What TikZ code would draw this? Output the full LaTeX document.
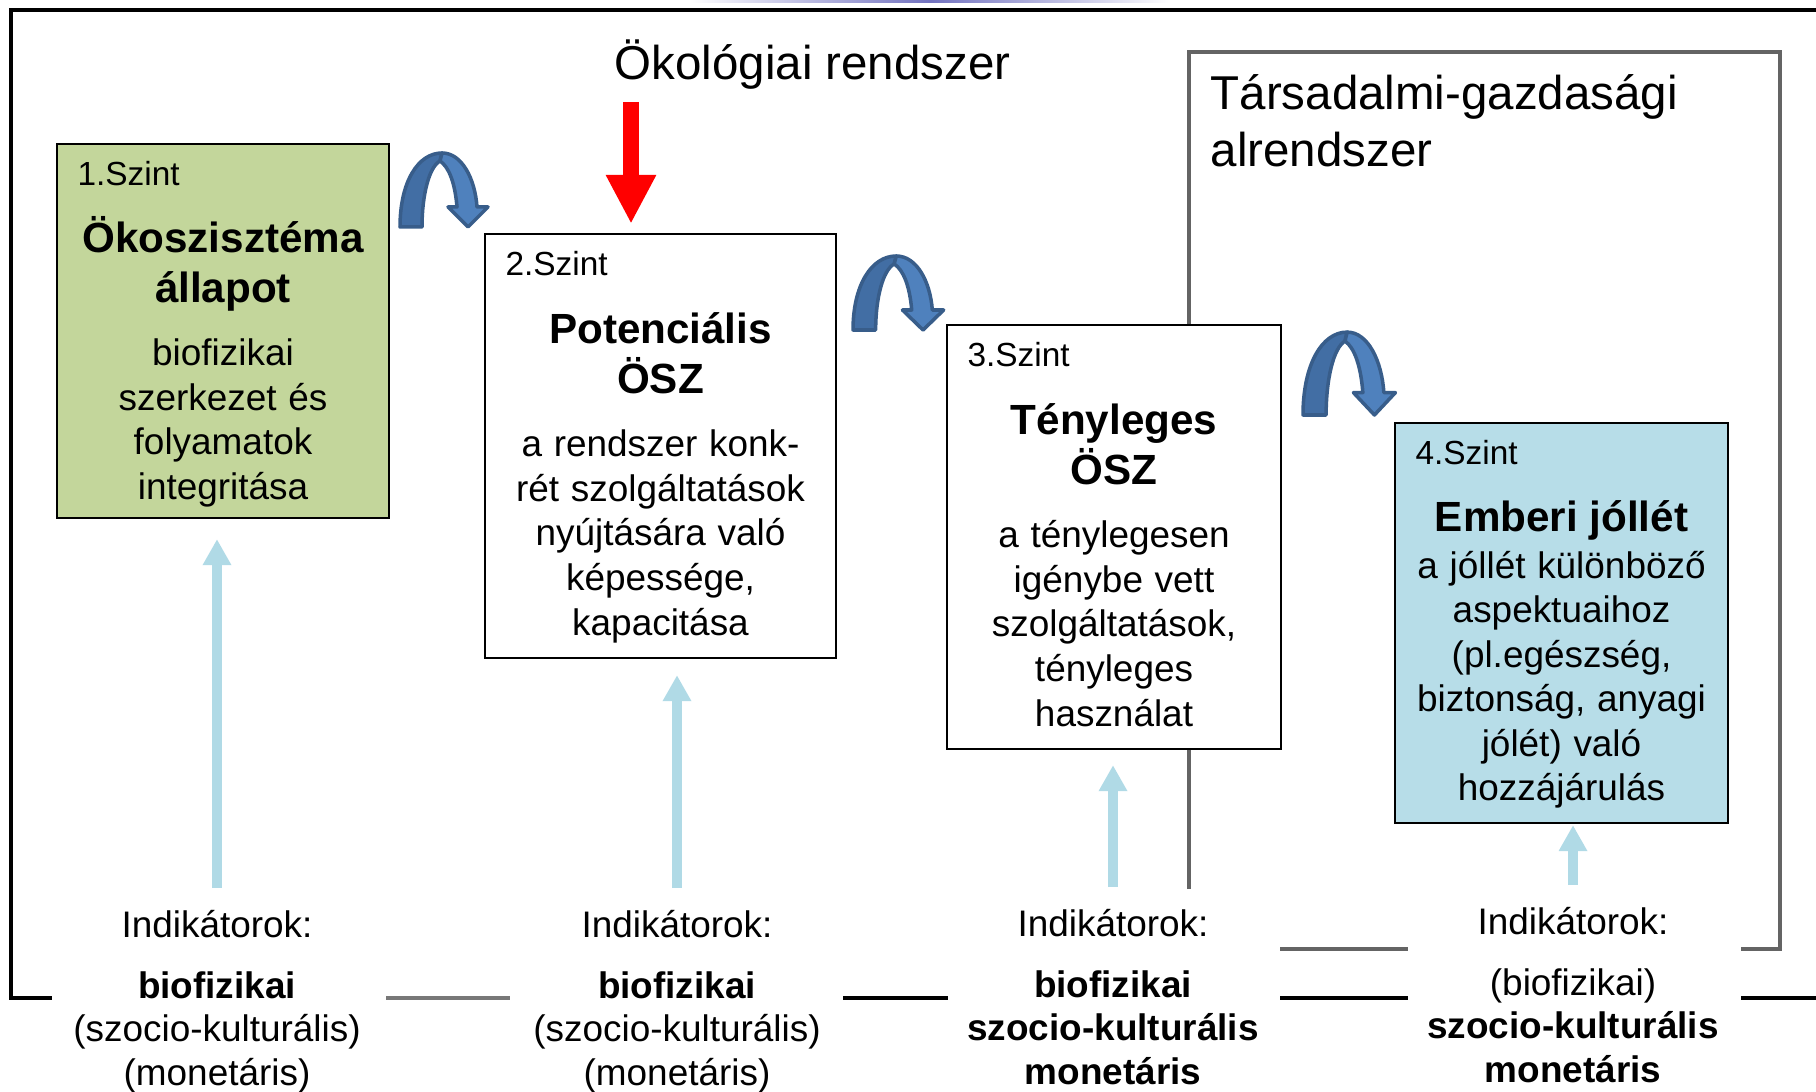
\documentclass[tikz,border=0pt]{standalone}
\usepackage{fontspec}
\setmainfont{Liberation Sans}
\usetikzlibrary{arrows.meta}
\setlength{\parindent}{0pt}

\definecolor{szintgreen}{RGB}{195,214,155}
\definecolor{szintblue}{RGB}{183,221,232}
\definecolor{indblue}{RGB}{176,218,230}
\definecolor{archdark}{RGB}{66,110,164}
\definecolor{archlight}{RGB}{79,129,189}
\definecolor{archline}{RGB}{56,93,138}
\definecolor{subgray}{RGB}{100,100,100}

\newcommand{\szinttitle}{\fontsize{12}{14.2}\selectfont\bfseries}
\newcommand{\szintbody}{\fontsize{10.5}{12.66}\selectfont}

\begin{document}
\begin{tikzpicture}[x=0.01cm, y=-0.01cm,
          outerline/.style={line width=1.3pt},
          subframe/.style={draw=subgray,line width=1.15pt},
          box/.style={draw=black,line width=0.6pt,fill=white,inner sep=0pt},
          szint/.style={font=\fontsize{9.5}{11}\selectfont,anchor=west,inner sep=0pt},
          boxtext/.style={text width=3.3cm,align=center,anchor=base,inner sep=0pt},
          ind/.style={text width=3.3cm,align=center,anchor=base,inner xsep=0pt,inner ysep=6pt,
                      font=\fontsize{10.5}{12.5}\selectfont},
          biglabel/.style={font=\fontsize{13.5}{16}\selectfont,inner sep=0pt,anchor=base west},
          uparrow/.style={draw=indblue,line width=0.095cm,-{Triangle[width=0.27cm,length=0.26cm]}},
          redarrow/.style={draw=red,line width=0.16cm,-{Triangle[width=0.47cm,length=0.49cm]},shorten >=0.09cm},
          turnarrow/.pic={
            \filldraw[fill=archdark,draw=archline,line width=1pt,line join=round]
              (0,0) .. controls (0,-45) and (18,-74) .. (42,-74) -- (40,-66)
              .. controls (29,-60) and (22,-32) .. (22,0) -- cycle;
            \filldraw[fill=archlight,draw=archline,line width=1pt,line join=round]
              (40,-66) -- (42,-74) .. controls (62,-74) and (75,-48) .. (77,-20)
              -- (88,-20) -- (68,0) -- (48,-20) -- (57,-20)
              .. controls (55,-44) and (49,-60) .. (40,-66) -- cycle;
          },
        ]
        \useasboundingbox (0,0) rectangle (1816,1092);
        \shade[left color=white,right color=white,middle color=blue!55!black!55] (690,0) rectangle (1170,2.5);

        \draw[outerline] (1816,10) -- (11,10) -- (11,998) -- (52,998);
        \draw[outerline,draw=black!53] (386,998) -- (510,998);
        \draw[outerline] (843,998) -- (948,998);
        \draw[outerline] (1280,998) -- (1408,998);
        \draw[outerline] (1741,998) -- (1816,998);

        \draw[subframe] (1189,889) -- (1189,52) -- (1780,52) -- (1780,949) -- (1741,949);
        \draw[subframe] (1280,949) -- (1408,949);

        \node[biglabel] (eco) at (614,80) {Ökológiai rendszer};
        \node[biglabel,text width=5.5cm,align=left] (soc) at (1210,110) {Társadalmi-gazdasági\\alrendszer};

        \node[box,fill=szintgreen,minimum width=3.32cm,minimum height=3.74cm] (b1) at (223,331) {};
        \node[box,minimum width=3.51cm,minimum height=4.24cm] (b2) at (660.5,446) {};
        \node[box,minimum width=3.34cm,minimum height=4.24cm] (b3) at (1114,537) {};
        \node[box,fill=szintblue,minimum width=3.33cm,minimum height=4.00cm] (b4) at (1561.5,623) {};

        \node[szint] (l1) at ([xshift=0.21cm,yshift=-0.31cm]b1.north west) {1.Szint};
        \node[szint] (l2) at ([xshift=0.21cm,yshift=-0.31cm]b2.north west) {2.Szint};
        \node[szint] (l3) at ([xshift=0.21cm,yshift=-0.31cm]b3.north west) {3.Szint};
        \node[szint] (l4) at ([xshift=0.21cm,yshift=-0.31cm]b4.north west) {4.Szint};

        \node[boxtext] (t1) at (223,253) {{\szinttitle Ökoszisztéma\\állapot\par}\vspace{5.26pt}%
          {\szintbody biofizikai\\szerkezet és\\folyamatok\\integritása\par}};
        \node[boxtext] (t2) at (660.5,344) {{\szinttitle Potenciális\\ÖSZ\par}\vspace{5.26pt}%
          {\szintbody a rendszer konk-\\rét szolgáltatások\\nyújtására való\\képessége,\\kapacitása\par}};
        \node[boxtext] (t3) at (1114,435) {{\szinttitle Tényleges\\ÖSZ\par}\vspace{5.26pt}%
          {\szintbody a ténylegesen\\igénybe vett\\szolgáltatások,\\tényleges\\használat\par}};
        \node[boxtext] (t4) at (1561.5,532) {{\szinttitle Emberi jóllét\par}\vspace{0.45pt}%
          {\szintbody a jóllét különböző\\aspektuaihoz\\(pl.egészség,\\biztonság, anyagi\\jólét) való\\hozzájárulás\par}};

        \node[ind] (i1) at (217,937) {Indikátorok:\\[4.85pt]\textbf{biofizikai}\\(szocio-kulturális)\\(monetáris)};
        \node[ind] (i2) at (677,937) {Indikátorok:\\[4.85pt]\textbf{biofizikai}\\(szocio-kulturális)\\(monetáris)};
        \node[ind] (i3) at (1113,936) {Indikátorok:\\[4.85pt]\textbf{biofizikai}\\\textbf{szocio-kulturális}\\\textbf{monetáris}};
        \node[ind] (i4) at (1573,934) {Indikátorok:\\[4.85pt](biofizikai)\\\textbf{szocio-kulturális}\\\textbf{monetáris}};

        \draw[uparrow,shorten >=0.2cm] (i1.north) -- (i1.north |- b1.south);
        \draw[uparrow,shorten >=0.16cm] (i2.north) -- (i2.north |- b2.south);
        \draw[uparrow,shorten >=0.15cm] (i3.north) -- (i3.north |- b3.south);
        \draw[uparrow,shorten >=0.01cm] (i4.north) -- (i4.north |- b4.south);

        \coordinate (r0) at (631,102);
        \draw[redarrow] (r0) -- (r0 |- b2.north);

        \pic at (400,227) {turnarrow};
        \pic[xscale=1.03] at (853,330) {turnarrow};
        \pic[xscale=1.05,yscale=1.12] at (1303,415) {turnarrow};
      \end{tikzpicture}
\end{document}
